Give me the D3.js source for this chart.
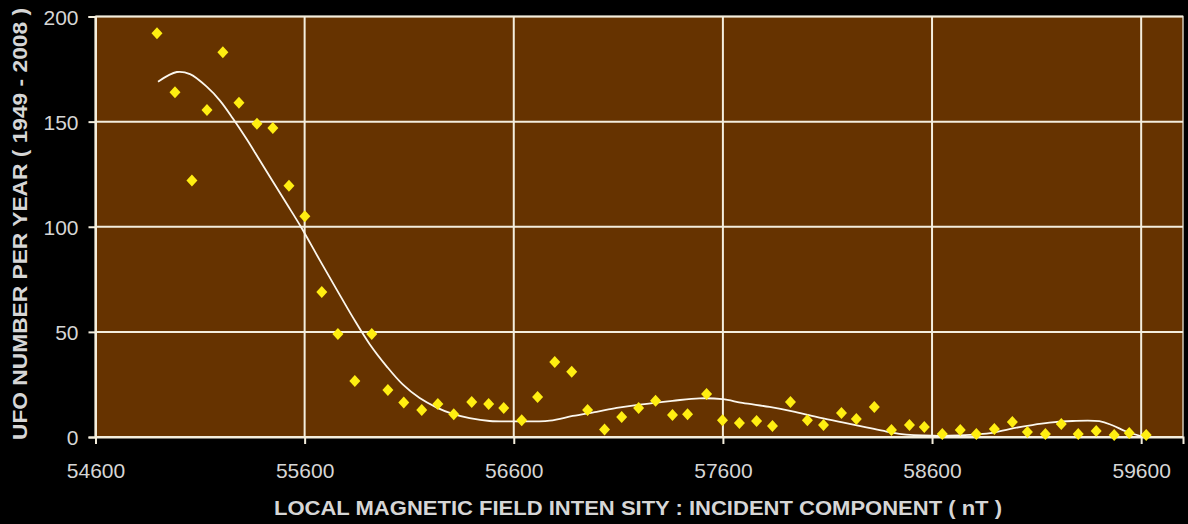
<!DOCTYPE html>
<html>
<head>
<meta charset="utf-8">
<script src="https://cdn.jsdelivr.net/npm/d3@7"></script>
<style>
html,body{margin:0;padding:0;background:#000;}
svg{display:block;}
</style>
</head>
<body>
<svg id="chart" width="1188" height="524"></svg>
<script>
// ---- data ----
const fieldNT = [54894,54980,55061,55133,55209,55286,55372,55448,55525,55601,
  55682,55759,55840,55921,55998,56074,56160,56237,56313,56399,
  56480,56552,56638,56714,56796,56877,56953,57034,57116,57197,
  57278,57359,57431,57522,57598,57679,57761,57837,57923,58004,
  58081,58167,58238,58324,58406,58492,58563,58649,58735,58812,
  58898,58984,59056,59142,59218,59299,59385,59471,59543,59624];
const ufoPerYear = [192,164,122,155.5,183,159,149,147,119.5,105,
  69,49,26.6,49,22.4,16.4,12.8,15.7,10.8,16.6,
  15.7,13.8,8,19,35.7,31,12.8,3.6,9.5,13.8,
  17.3,10.5,10.8,20.5,8,6.7,7.6,5.2,16.6,8,
  5.7,11.4,8.6,14.3,3.3,5.7,4.8,1.4,3.3,1.4,
  3.8,7.1,2.4,1.4,6.2,1.4,2.9,1,1.9,1];
const trendNT = [54899,54989,55052,55133,55195,55257,55324,55386,55448,55515,
  55582,55673,55754,55830,55912,55993,56069,56150,56232,56308,
  56389,56485,56595,56772,56882,56996,57092,57202,57359,57488,
  57598,57694,57823,57933,58047,58172,58286,58382,58444,58602,
  58731,58888,58970,59079,59161,59271,59400,59462,59529,59605];
const trendVal = [169,173.6,172.6,166.5,160,151.5,141.5,131.5,121.5,110.8,
  100,84,70,57,44,33.5,25,18.5,14,11,
  9,7.6,7.4,7.8,10,12,13.8,15.4,17.2,18.4,
  18,16.2,14.3,12.2,9.6,7,4.6,2.6,1.5,0.6,
  0.8,2,3.8,5.7,6.8,7.6,7.5,5.6,2.6,0.2];
const xTicks = [54600,55600,56600,57600,58600,59600];
const yTicks = [0,50,100,150,200];
const xTitle = "LOCAL MAGNETIC FIELD INTEN SITY : INCIDENT COMPONENT ( nT )";
const yTitle = "UFO NUMBER PER YEAR ( 1949 - 2008 )";

// ---- layout ----
const L = 95.5, R = 1183, T = 16.5, B = 437;
const svg = d3.select("#chart");
const x = d3.scaleLinear().domain([54600, 59800]).range([L, R]);
const y = d3.scaleLinear().domain([0, 200]).range([B, T]);
const gridCol = "#f4eedd";
const textCol = "#d6d6d6";
const font = "'Liberation Sans', Arial, sans-serif";

svg.append("rect").attr("x",0).attr("y",0).attr("width",1188).attr("height",524).attr("fill","#000");
svg.append("rect").attr("x",L).attr("y",T).attr("width",R-L).attr("height",B-T)
  .attr("fill","#663300").attr("stroke","#cfc6b4").attr("stroke-width",1.5);

// grid
svg.append("g").selectAll("line").data(yTicks).join("line")
  .attr("x1",L).attr("x2",R).attr("y1",d=>y(d)).attr("y2",d=>y(d))
  .attr("stroke",gridCol).attr("stroke-width",2);
svg.append("g").selectAll("line").data(xTicks).join("line")
  .attr("y1",T).attr("y2",B).attr("x1",d=>x(d)).attr("x2",d=>x(d))
  .attr("stroke",gridCol).attr("stroke-width",2);

// axes
const xAxis = svg.append("g").attr("transform",`translate(0,${B})`)
  .call(d3.axisBottom(x).tickValues(xTicks).tickSize(7).tickPadding(19).tickFormat(d3.format("d")));
const yAxis = svg.append("g").attr("transform",`translate(${L},0)`)
  .call(d3.axisLeft(y).tickValues(yTicks).tickSize(7).tickPadding(10).tickFormat(d3.format("d")));
[xAxis, yAxis].forEach(g => {
  g.select(".domain").attr("stroke",gridCol).attr("stroke-width",2);
  g.selectAll(".tick line").attr("stroke",gridCol).attr("stroke-width",2);
  g.selectAll(".tick text").attr("fill",textCol).attr("font-family",font).attr("font-size",21);
});
yAxis.selectAll(".tick text").attr("dy","0.36em");

// trend line
const line = d3.line().x(d=>x(d[0])).y(d=>y(d[1])).curve(d3.curveCatmullRom.alpha(0.5));
svg.append("path").datum(trendNT.map((v,i)=>[v,trendVal[i]]))
  .attr("d",line).attr("fill","none").attr("stroke","#fbf7ee").attr("stroke-width",1.8);

// markers
svg.append("g").selectAll("path").data(fieldNT.map((v,i)=>[v,ufoPerYear[i]])).join("path")
  .attr("transform",d=>`translate(${x(d[0])},${y(d[1])})`)
  .attr("d","M0,-6L5.5,0L0,6L-5.5,0Z")
  .attr("fill","#ffee11");

// titles
svg.append("text").attr("x",638).attr("y",515).attr("text-anchor","middle")
  .attr("fill",textCol).attr("font-family",font).attr("font-size",20).attr("font-weight","bold")
  .attr("textLength",728).attr("lengthAdjust","spacingAndGlyphs").text(xTitle);
svg.append("text").attr("transform","translate(27,224) rotate(-90)").attr("text-anchor","middle")
  .attr("fill",textCol).attr("font-family",font).attr("font-size",20).attr("font-weight","bold")
  .attr("textLength",432).attr("lengthAdjust","spacingAndGlyphs").text(yTitle);
</script>
</body>
</html>
